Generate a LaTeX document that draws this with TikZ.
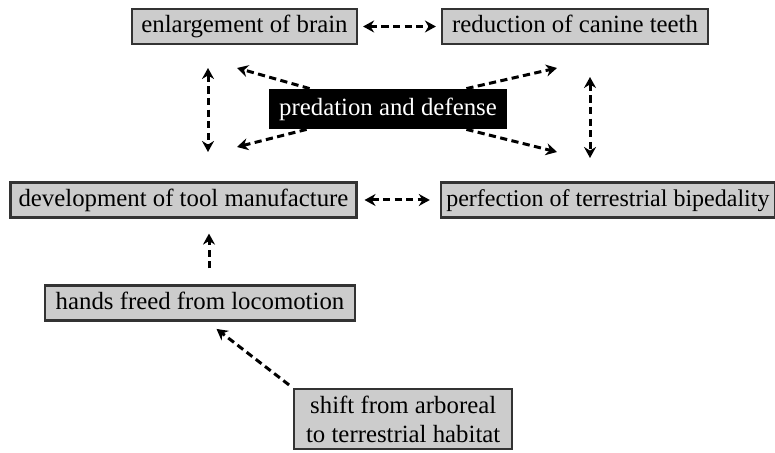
\documentclass[tikz,border=0pt]{standalone}
\usepackage{fontspec}
\setmainfont{Liberation Serif}
\usetikzlibrary{calc,positioning,arrows.meta}
\tikzset{
    stage/.style={rectangle, draw=black!80, line width=1.1pt, fill=black!20, inner xsep=4pt, inner ysep=3pt, text height=8.8pt, text depth=2.7pt},
    cause/.style={rectangle, fill=black, text=white, inner xsep=5pt, minimum height=20pt, text height=8.8pt, text depth=2.7pt},
    line/.style={draw, line width=1.5pt, dash pattern=on 3.6pt off 2.2pt, -{Stealth[length=5.5pt,width=6pt,inset=1.8pt]}},
    both/.style={{Stealth[length=5.5pt,width=6pt,inset=1.8pt]}-{Stealth[length=5.5pt,width=6pt,inset=1.8pt]}}
}

\begin{document}
\begin{tikzpicture}[x=0.5pt,y=-0.5pt]
    \useasboundingbox (0,0) rectangle (775,453);
    \fontsize{12.4}{14.5}\selectfont

    \node[stage, minimum width=112.5pt] (brain) at (244.5,26.5) {enlargement of brain};
    \node[stage, minimum width=133pt] (teeth) at (575,26.5) {reduction of canine teeth};
    \node[cause, minimum width=119pt] (pred) at (388,109) {predation and defense};
    \node[stage, minimum width=171.5pt] (tool) at (183.5,200) {development of tool manufacture};
    \node[stage, anchor=east, minimum width=167pt, inner xsep=2pt, font=\fontsize{12}{14}\selectfont] (biped) at (776,200) {perfection of terrestrial bipedality};
    \node[stage, minimum width=155pt] (hands) at (200,303) {hands freed from locomotion};
    \node[stage, text height=, text depth=, align=center, anchor=north west, inner xsep=6pt, minimum height=30pt] (shift) at (293,388) {shift from arboreal\\to terrestrial habitat};

    \coordinate (lup) at (208,68);
    \coordinate (ldown) at (208,152);
    \coordinate (rup) at (590,77);
    \coordinate (rdown) at (590,158);
    \coordinate (brainside) at (237,68);
    \coordinate (toolside) at (237,147);
    \coordinate (teethside) at (557,68);
    \coordinate (bipedside) at (557,152);

    \begin{scope} [every path/.style=line]
      \path[both, shorten <=2.5pt, shorten >=2.5pt] (brain) -- (teeth);
      \path[both, shorten <=3.5pt, shorten >=5pt] (tool) -- (biped);
      \path[both] (lup) -- (ldown);
      \path[both] (rup) -- (rdown);

      \path ($(pred.north west)+(41,0)$) -- (brainside);
      \path ($(pred.south west)+(38,0)$) -- (toolside);
      \path ($(pred.north east)+(-41,0)$) -- (teethside);
      \path ($(pred.south east)+(-41,0)$) -- (bipedside);

      \path[shorten <=8pt, shorten >=7.5pt] ([xshift=4.5pt]hands.north) -- ([xshift=4.5pt]hands.north |- tool.south);
      \path[shorten <=2.5pt, shorten >=6pt] (shift.north west) -- ($(hands.south)+(7,0)$);
    \end{scope}

\end{tikzpicture}
\end{document}
